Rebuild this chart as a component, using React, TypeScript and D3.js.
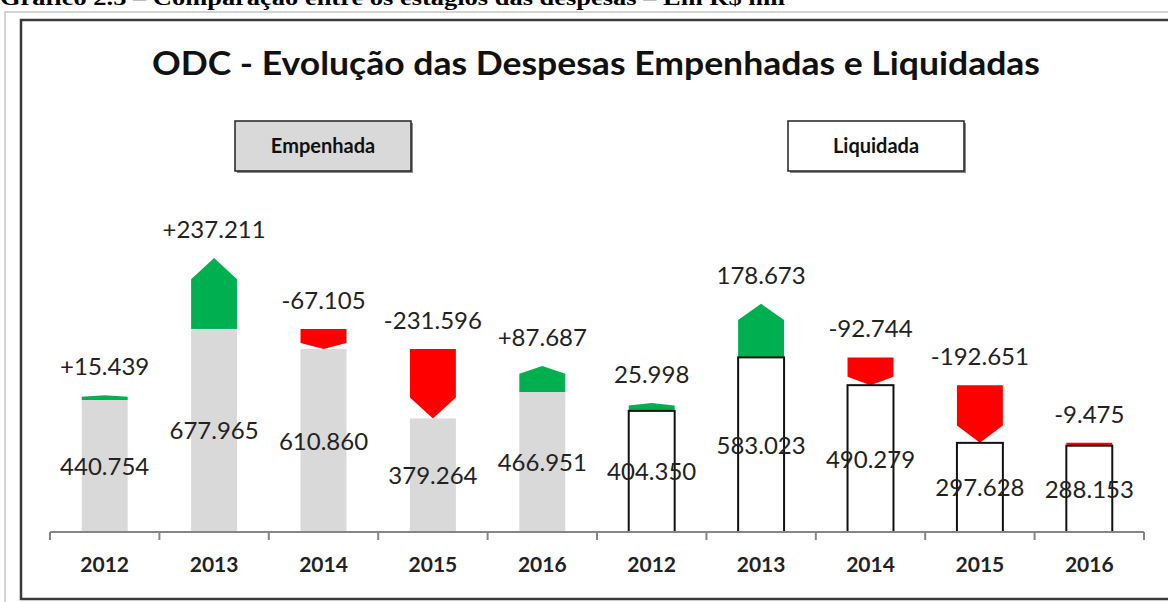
import { useEffect, useRef } from 'react';
import * as d3 from 'd3';

// values in R$ mil
const years = ['2012', '2013', '2014', '2015', '2016'];
const empenhada = [440.754, 677.965, 610.86, 379.264, 466.951];
const empenhadaVar = [15.439, 237.211, -67.105, -231.596, 87.687];
const liquidada = [404.35, 583.023, 490.279, 297.628, 288.153];
const liquidadaVar = [25.998, 178.673, -92.744, -192.651, -9.475];

const W = 1168;
const H = 602;

const fmt = (v: number) => Math.abs(v).toFixed(3);

const App = () => {
  const svgRef = useRef<SVGSVGElement>(null);

  useEffect(() => {
    const svg = d3.select(svgRef.current);
    svg.selectAll('*').remove();

    // flat rows for both groups
    const rows = [
      ...years.map((y, i) => ({ key: 'E' + y, year: y, value: empenhada[i], change: empenhadaVar[i], group: 'E' })),
      ...years.map((y, i) => ({ key: 'L' + y, year: y, value: liquidada[i], change: liquidadaVar[i], group: 'L' })),
    ];

    const x = d3.scaleBand()
      .domain(rows.map(d => d.key))
      .range([50, 1144])
      .paddingInner(0.58)
      .paddingOuter(0.29);

    const base = 532;
    const y = d3.scaleLinear().domain([0, 1000]).range([base, base - 299.5]);

    // caption and frames
    svg.append('text')
      .attr('x', 0)
      .attr('y', 5)
      .attr('font-family', '"Liberation Serif", serif')
      .attr('font-weight', 'bold')
      .attr('font-size', 20)
      .attr('textLength', 785)
      .attr('lengthAdjust', 'spacingAndGlyphs')
      .text('Gráfico 2.5 – Comparação entre os estágios das despesas – Em R$ mil');

    svg.append('path')
      .attr('d', `M5,${H} L5,12 L${W},12`)
      .attr('fill', 'none')
      .attr('stroke', '#d4d4d4')
      .attr('stroke-width', 2);

    svg.append('path')
      .attr('d', `M${W},20 L21,20 L21,599 L${W},599`)
      .attr('fill', 'none')
      .attr('stroke', '#3a3a3a')
      .attr('stroke-width', 2.5);

    // title
    svg.append('text')
      .attr('x', 596)
      .attr('y', 75)
      .attr('text-anchor', 'middle')
      .attr('font-family', 'Lato, sans-serif')
      .attr('font-weight', 'bold')
      .attr('font-size', 33)
      .attr('textLength', 888)
      .attr('lengthAdjust', 'spacingAndGlyphs')
      .attr('fill', '#111')
      .text('ODC - Evolução das Despesas Empenhadas e Liquidadas');

    // group label boxes
    const boxes = [
      { label: 'Empenhada', x0: 235, fill: '#d9d9d9' },
      { label: 'Liquidada', x0: 788, fill: '#ffffff' },
    ];
    const bw = 176, bh = 50, by = 121;
    const bg = svg.append('g');
    bg.selectAll('rect.shadow')
      .data(boxes)
      .enter()
      .append('rect')
      .attr('x', d => d.x0 + 2)
      .attr('y', by + 2)
      .attr('width', bw)
      .attr('height', bh)
      .attr('fill', '#8c8c8c');
    bg.selectAll('rect.box')
      .data(boxes)
      .enter()
      .append('rect')
      .attr('x', d => d.x0)
      .attr('y', by)
      .attr('width', bw)
      .attr('height', bh)
      .attr('fill', d => d.fill)
      .attr('stroke', '#222')
      .attr('stroke-width', 1.5);
    bg.selectAll('text')
      .data(boxes)
      .enter()
      .append('text')
      .attr('x', d => d.x0 + bw / 2)
      .attr('y', by + bh / 2 + 7)
      .attr('text-anchor', 'middle')
      .attr('font-family', 'Lato, sans-serif')
      .attr('font-weight', 'bold')
      .attr('font-size', 20)
      .attr('fill', '#111')
      .text(d => d.label);

    const g = svg.append('g');

    // variation arrows, stacked on top of each bar
    const arrowPath = (d: typeof rows[number]) => {
      const x0 = x(d.key)!;
      const x1 = x0 + x.bandwidth();
      const xm = (x0 + x1) / 2;
      const bottom = y(d.value);
      const top = y(d.value + Math.abs(d.change));
      const h = bottom - top;
      const tip = Math.min(h * 0.3, 22);
      if (d.change >= 0) {
        return `M${x0},${bottom} L${x0},${top + tip} L${xm},${top} L${x1},${top + tip} L${x1},${bottom} Z`;
      }
      return `M${x0},${top} L${x1},${top} L${x1},${bottom - tip} L${xm},${bottom} L${x0},${bottom - tip} Z`;
    };

    g.selectAll('path.arrow')
      .data(rows)
      .enter()
      .append('path')
      .attr('class', 'arrow')
      .attr('d', arrowPath)
      .attr('fill', d => (d.change >= 0 ? '#00b050' : '#ff0000'));

    g.selectAll('rect.bar')
      .data(rows)
      .enter()
      .append('rect')
      .attr('class', 'bar')
      .attr('x', d => x(d.key)!)
      .attr('y', d => y(d.value))
      .attr('width', x.bandwidth())
      .attr('height', d => base - y(d.value))
      .attr('fill', d => (d.group === 'E' ? '#d9d9d9' : '#ffffff'))
      .attr('stroke', d => (d.group === 'E' ? 'none' : '#111'))
      .attr('stroke-width', 2);

    // axis
    const ax = svg.append('g');
    ax.append('line')
      .attr('x1', 50)
      .attr('x2', 1144)
      .attr('y1', base)
      .attr('y2', base)
      .attr('stroke', '#868686')
      .attr('stroke-width', 2);
    const step = x.step();
    const ticks = d3.range(rows.length + 1).map(i => 50 + i * step);
    ax.selectAll('line.tick')
      .data(ticks)
      .enter()
      .append('line')
      .attr('x1', d => d)
      .attr('x2', d => d)
      .attr('y1', base)
      .attr('y2', base + 8)
      .attr('stroke', '#868686')
      .attr('stroke-width', 2);
    ax.selectAll('text')
      .data(rows)
      .enter()
      .append('text')
      .attr('x', d => x(d.key)! + x.bandwidth() / 2)
      .attr('y', 572)
      .attr('text-anchor', 'middle')
      .attr('font-family', 'Lato, sans-serif')
      .attr('font-weight', 'bold')
      .attr('font-size', 21)
      .attr('fill', '#222')
      .text(d => d.year);

    // value labels, centered in bar
    const labelFont = 'Lato, sans-serif';
    g.selectAll('text.val')
      .data(rows)
      .enter()
      .append('text')
      .attr('class', 'val')
      .attr('x', d => x(d.key)! + x.bandwidth() / 2)
      .attr('y', d => (y(d.value) + base) / 2 + 9)
      .attr('text-anchor', 'middle')
      .attr('font-family', labelFont)
      .attr('font-size', 24)
      .attr('fill', '#222')
      .text(d => fmt(d.value));

    // change labels, above arrows
    g.selectAll('text.chg')
      .data(rows)
      .enter()
      .append('text')
      .attr('class', 'chg')
      .attr('x', d => x(d.key)! + x.bandwidth() / 2)
      .attr('y', d => y(d.value + Math.abs(d.change)) - 20)
      .attr('text-anchor', 'middle')
      .attr('font-family', labelFont)
      .attr('font-size', 24)
      .attr('fill', '#222')
      .text(d => {
        if (d.change < 0) return '-' + fmt(d.change);
        return (d.group === 'E' ? '+' : '') + fmt(d.change);
      });
  }, []);

  return (
    <svg
      ref={svgRef}
      width={W}
      height={H}
      style={{ position: 'absolute', left: 0, top: 0, background: '#fff' }}
    />
  );
};

export default App;
